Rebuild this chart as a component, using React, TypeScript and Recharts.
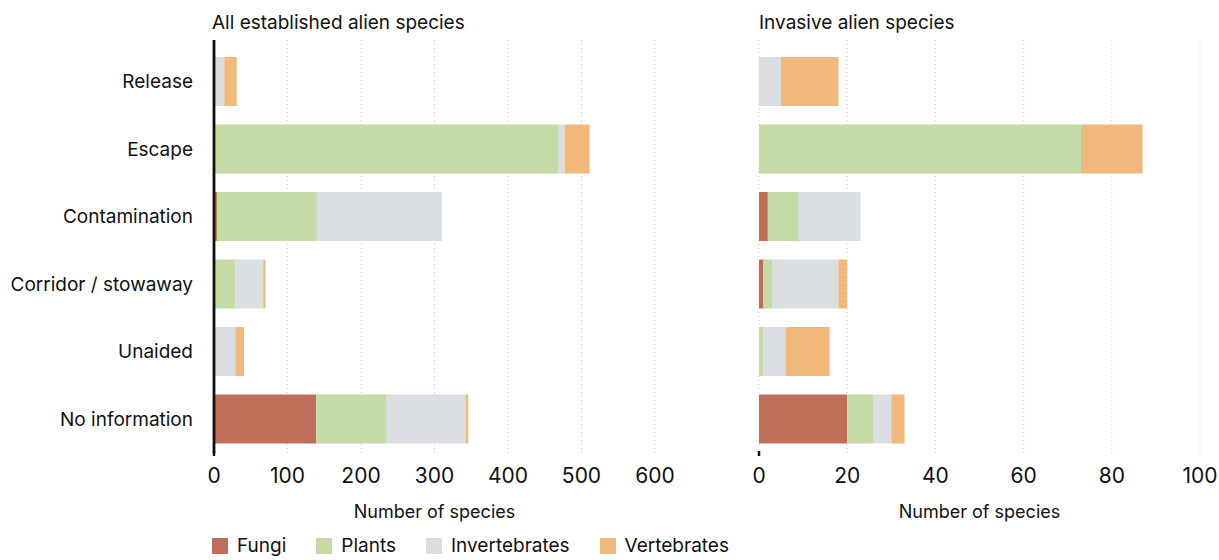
import React from 'react';
import { BarChart, Bar, XAxis, YAxis, CartesianGrid } from 'recharts';

const categories = ['Release', 'Escape', 'Contamination', 'Corridor / stowaway', 'Unaided', 'No information'];

// All established alien species
const allFungi = [0, 0, 4, 0, 0, 139];
const allPlants = [0, 469, 136, 29, 0, 96];
const allInvertebrates = [14, 8, 170, 38, 29, 107];
const allVertebrates = [17, 34, 0, 3, 12, 4];

// Invasive alien species
const invFungi = [0, 0, 2, 1, 0, 20];
const invPlants = [0, 73, 7, 2, 1, 6];
const invInvertebrates = [5, 0, 14, 15, 5, 4];
const invVertebrates = [13, 14, 0, 2, 10, 3];

const allTicks = [0, 100, 200, 300, 400, 500, 600];
const invTicks = [0, 20, 40, 60, 80, 100];

const SERIES = [
  { key: 'fungi', name: 'Fungi', color: '#bf6e5a' },
  { key: 'plants', name: 'Plants', color: '#c4dba8' },
  { key: 'invertebrates', name: 'Invertebrates', color: '#dbdee1' },
  { key: 'vertebrates', name: 'Vertebrates', color: '#f0b87a' },
];

const FONT = 'Inter, "Noto Sans", sans-serif';

const allData = categories.map((c, i) => ({
  category: c,
  fungi: allFungi[i],
  plants: allPlants[i],
  invertebrates: allInvertebrates[i],
  vertebrates: allVertebrates[i],
}));

const invData = categories.map((c, i) => ({
  category: c,
  fungi: invFungi[i],
  plants: invPlants[i],
  invertebrates: invInvertebrates[i],
  vertebrates: invVertebrates[i],
}));

const XTick = (props: any) => {
  const { x, y, payload } = props;
  return (
    <g>
      {payload.value === 0 && <line x1={x} x2={x} y1={y - 14} y2={y - 9} stroke="#111" strokeWidth={2.5} />}
      <text x={x} y={y} dy={18} textAnchor="middle" fill="#111" fontSize={21} fontFamily={FONT}>
        {payload.value}
      </text>
    </g>
  );
};

const Panel = ({ data, domain, ticks, showY, width, left, right }: any) => (
  <BarChart
    width={width}
    height={530}
    data={data}
    layout="vertical"
    margin={{ top: 40, right, bottom: 0, left }}
    barSize={49}
  >
    <CartesianGrid horizontal={false} stroke="#c8c8c8" strokeDasharray="1 3" />
    <XAxis
      type="number"
      domain={domain}
      ticks={ticks}
      interval={0}
      axisLine={false}
      tickLine={false}
      tickSize={0}
      tickMargin={12}
      height={77}
      tick={<XTick />}
      label={{ value: 'Number of species', position: 'insideBottom', offset: 12, fill: '#111', fontSize: 18, fontFamily: FONT }}
    />
    <YAxis
      type="category"
      dataKey="category"
      width={showY ? 214 : 0}
      tick={showY ? { fill: '#111', fontSize: 19, fontFamily: FONT } : false}
      tickLine={false}
      tickSize={0}
      tickMargin={21}
      axisLine={{ stroke: '#111', strokeWidth: 2.8 }}
      padding={{ top: 8, bottom: 0 }}
      interval={0}
    />
    {SERIES.map((s) => (
      <Bar key={s.key} dataKey={s.key} name={s.name} stackId="a" fill={s.color} isAnimationActive={false} />
    ))}
  </BarChart>
);

export default function App() {
  return (
    <div style={{ position: 'absolute', left: 0, top: 0, width: 1219, height: 560, background: '#fff', fontFamily: FONT, color: '#111', overflow: 'hidden' }}>
      <div style={{ position: 'absolute', left: 212, top: 11, fontSize: 19 }}>All established alien species</div>
      <div style={{ position: 'absolute', left: 759, top: 11, fontSize: 19 }}>Invasive alien species</div>
      <div style={{ position: 'absolute', left: 0, top: 0 }}>
        <Panel data={allData} domain={[0, 600]} ticks={allTicks} showY width={700} left={0} right={45} />
      </div>
      <div style={{ position: 'absolute', left: 700, top: 0 }}>
        <Panel data={invData} domain={[0, 100]} ticks={invTicks} showY={false} width={519} left={59} right={19} />
      </div>
      <div style={{ position: 'absolute', left: 212, top: 534, display: 'flex', gap: 30, fontSize: 19, lineHeight: '24px' }}>
        {SERIES.map((s) => (
          <div key={s.key} style={{ display: 'flex', alignItems: 'center' }}>
            <span style={{ display: 'inline-block', width: 16, height: 16, background: s.color, marginRight: 9 }} />
            <span>{s.name}</span>
          </div>
        ))}
      </div>
    </div>
  );
}
